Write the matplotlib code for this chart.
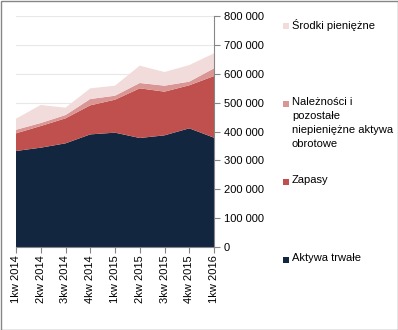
import numpy as np
import matplotlib
matplotlib.use('Agg')
import matplotlib.pyplot as plt
from matplotlib.patches import Rectangle
from matplotlib.ticker import FuncFormatter

plt.rcParams['font.family'] = ['Liberation Sans', 'DejaVu Sans']

quarters = ['1kw 2014', '2kw 2014', '3kw 2014', '4kw 2014', '1kw 2015',
            '2kw 2015', '3kw 2015', '4kw 2015', '1kw 2016']
aktywa_trwale = [332500, 344000, 359000, 390000, 396000, 377500, 386700, 411000, 378600]
zapasy = [61100, 75000, 86600, 100600, 114200, 172000, 151300, 149000, 213400]
naleznosci = [12400, 10400, 11400, 21900, 13800, 18500, 20700, 12600, 26800]
srodki = [38400, 62400, 25500, 37000, 34700, 60000, 47300, 57400, 51900]

series = [aktywa_trwale, zapasy, naleznosci, srodki]
labels = ['Aktywa trwałe', 'Zapasy',
          'Należności i\npozostałe\nniepieniężne aktywa\nobrotowe',
          'Środki pieniężne']
colors = ['#12263f', '#c0504d', '#d99694', '#f2dcdb']

fig = plt.figure(figsize=(3.98, 3.30), dpi=100)
ax = fig.add_axes([16 / 398, 1 - 247 / 330, 198 / 398, 231 / 330])

x = np.arange(len(quarters))
ax.stackplot(x, *series, colors=colors, linewidth=0)

ax.set_xlim(0, len(quarters) - 1)
ax.set_ylim(0, 800000)
ax.set_yticks(np.arange(0, 800001, 100000))
ax.yaxis.set_major_formatter(FuncFormatter(lambda v, p: f'{int(v):,}'.replace(',', ' ')))
ax.yaxis.tick_right()
ax.tick_params(axis='y', which='major', direction='out', length=4, color='#868686',
               labelsize=8, pad=3, labelcolor='#000000')
for lab in ax.get_yticklabels():
    lab.set_horizontalalignment('left')

ax.set_xticks(x)
ax.set_xticklabels(quarters, rotation=90, fontsize=8)
ax.tick_params(axis='x', direction='out', length=4, color='#868686', pad=2)

ax.grid(axis='y', color='#e8e8e8', linewidth=0.8)
ax.set_axisbelow(True)
for s in ['top', 'left']:
    ax.spines[s].set_visible(False)
ax.spines['right'].set_color('#868686')
ax.spines['bottom'].set_color('#868686')

# legend, drawn by hand to keep Excel-like spacing
leg_y = [259, 181, 103, 25]
for lab, col, yy in zip(labels, colors, leg_y):
    fig.add_artist(Rectangle((283 / 398, 1 - (yy + 3.5) / 330), 6 / 398, 6 / 330,
                             transform=fig.transFigure, facecolor=col, edgecolor='none'))
    fig.text(292 / 398, 1 - (yy - 6) / 330, lab, fontsize=8, va='top', ha='left',
             linespacing=1.5)

# outer border
fig.add_artist(Rectangle((0.5 / 398, 0.5 / 330), 397 / 398, 329 / 330,
                         transform=fig.transFigure, fill=False, edgecolor='#868686',
                         linewidth=1))

fig.savefig('out.png', dpi=100)
